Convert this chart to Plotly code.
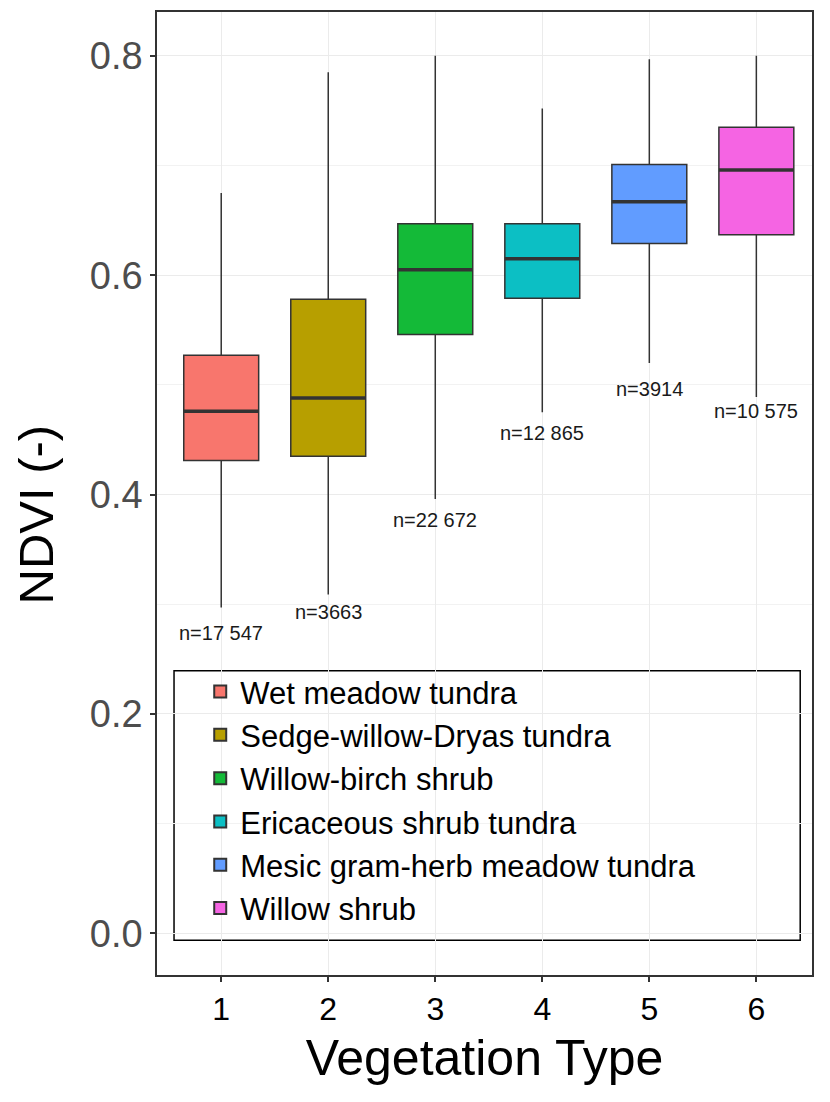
import plotly.graph_objects as go

categories = [1, 2, 3, 4, 5, 6]
names = ["Wet meadow tundra", "Sedge-willow-Dryas tundra", "Willow-birch shrub",
         "Ericaceous shrub tundra", "Mesic gram-herb meadow tundra", "Willow shrub"]
colors = ["#F8766D", "#B79F00", "#14BA38", "#0CBFC4", "#619CFF", "#F564E3"]
lower = [0.297, 0.309, 0.396, 0.475, 0.520, 0.489]
q1 = [0.431, 0.435, 0.546, 0.579, 0.629, 0.637]
median = [0.476, 0.488, 0.605, 0.615, 0.667, 0.696]
q3 = [0.527, 0.578, 0.647, 0.647, 0.701, 0.735]
upper = [0.675, 0.785, 0.800, 0.752, 0.797, 0.800]
n_labels = ["n=17 547", "n=3663", "n=22 672", "n=12 865", "n=3914", "n=10 575"]
label_y = [0.274, 0.293, 0.377, 0.456, 0.496, 0.476]

BOX_W = 0.7
FONT = "Liberation Sans, Arial, sans-serif"

fig = go.Figure()
for i, c in enumerate(categories):
    fig.add_trace(go.Box(
        x=[c], q1=[q1[i]], median=[median[i]], q3=[q3[i]],
        lowerfence=[lower[i]], upperfence=[upper[i]],
        name=names[i], fillcolor=colors[i],
        line=dict(color="#333333", width=1.5),
        whiskerwidth=0, width=BOX_W, boxpoints=False,
        hoverinfo="skip",
    ))
for i, c in enumerate(categories):
    fig.add_trace(go.Scatter(
        x=[c - BOX_W / 2, c + BOX_W / 2], y=[median[i], median[i]],
        mode="lines", line=dict(color="#333333", width=3.5),
        showlegend=False, hoverinfo="skip",
    ))

for i, c in enumerate(categories):
    fig.add_annotation(x=c, y=label_y[i], text=n_labels[i], showarrow=False,
                       font=dict(family=FONT, size=20, color="#1a1a1a"))

# y-axis title
fig.add_annotation(xref="paper", yref="paper", x=-0.185, y=0.478,
                   xanchor="center", yanchor="middle", textangle=-90,
                   text="NDVI (-)", showarrow=False,
                   font=dict(family=FONT, size=49, color="black"))

fig.add_shape(type="rect", xref="paper", yref="paper",
              x0=0.026, x1=0.982, y0=0.036, y1=0.316,
              line=dict(color="black", width=1.5), fillcolor="white",
              layer="between")

fig.update_layout(
    width=822, height=1094,
    margin=dict(l=149, r=18, t=2, b=127),
    paper_bgcolor="white", plot_bgcolor="white",
    boxmode="overlay",
    font=dict(family=FONT, color="black"),
    legend=dict(x=0.066, y=0.322, xanchor="left", yanchor="top",
                bgcolor="rgba(0,0,0,0)", borderwidth=0,
                font=dict(family=FONT, size=31, color="black"),
                itemsizing="constant"),
    xaxis=dict(range=[0.4, 6.52], tickmode="array", tickvals=categories,
               ticktext=[str(c) for c in categories],
               showgrid=True, gridcolor="#EBEBEB", gridwidth=1.3,
               zeroline=False, showline=True, linecolor="#333333", linewidth=1.5,
               mirror=True, ticks="outside", ticklen=5, tickcolor="#333333",
               tickwidth=1.5, tickfont=dict(family=FONT, size=32, color="black"),
               title=dict(text="Vegetation Type", standoff=14,
                          font=dict(family=FONT, size=50, color="black"))),
    yaxis=dict(range=[-0.038, 0.84], tickmode="linear", tick0=0, dtick=0.2,
               tickformat=".1f",
               showgrid=True, gridcolor="#EBEBEB", gridwidth=1.3,
               minor=dict(dtick=0.1, tick0=0, showgrid=True, gridcolor="#F2F2F2",
                          gridwidth=0.8, ticks=""),
               zeroline=False, showline=True, linecolor="#333333", linewidth=1.5,
               mirror=True, ticks="outside", ticklen=5, tickcolor="#333333",
               tickwidth=1.5, tickfont=dict(family=FONT, size=38, color="#4D4D4D")),
)

fig.write_html("out.html")
